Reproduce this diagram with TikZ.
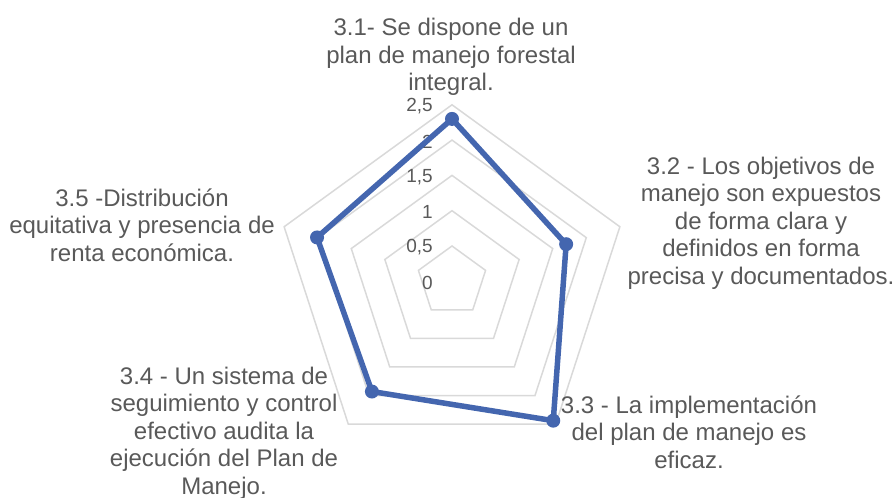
\documentclass[tikz,border=0pt]{standalone}
\usepackage{fontspec}
\setmainfont{Liberation Sans}
\definecolor{serie}{RGB}{68,102,175}
\definecolor{rejilla}{RGB}{217,217,217}
\definecolor{texto}{RGB}{89,89,89}

\begin{document}
\begin{tikzpicture}[x=1pt,y=1pt]
\tikzstyle{every node}+=[inner sep=0pt]
\tikzstyle{eje}=[text=texto,font=\fontsize{24}{27.5}\selectfont,align=center]
\tikzstyle{marca}=[text=texto,font=\fontsize{19}{21}\selectfont,anchor=east]
\useasboundingbox (0,0) rectangle (895,498);
\coordinate (c) at (452,216.7);
\begin{scope}[shift={(c)}]
\foreach \r in {1,...,5}
  \draw [rejilla,line width=1.5] (90:\r*35.3) -- (18:\r*35.3) -- (-54:\r*35.3) -- (-126:\r*35.3) -- (162:\r*35.3) -- cycle;
\node [marca] (m0) at (-19,-1.7) {0};
\node [marca] (m1) at (-19,33.8) {0,5};
\node [marca] (m2) at (-19,69.1) {1};
\node [marca] (m3) at (-19,104.4) {1,5};
\node [marca] (m4) at (-19,139.7) {2};
\node [marca] (m5) at (-19,175) {2,5};
\coordinate (p1) at (90:2.3*70.6);
\coordinate (p2) at (18:1.7*70.6);
\coordinate (p3) at (-54:2.44*70.6);
\coordinate (p4) at (-126:1.93*70.6);
\coordinate (p5) at (162:2.01*70.6);
\draw [serie,line width=5.5,line join=round] (p1) -- (p2) -- (p3) -- (p4) -- (p5) -- cycle;
\foreach \p in {p1,p2,p3,p4,p5}
  \fill [serie] (\p) circle (7);
\end{scope}
\node [eje] (e31) at (451,441) {3.1- Se dispone de un\\plan de manejo forestal\\integral.};
\node [eje] (e32) at (761,275) {3.2 - Los objetivos de\\manejo son expuestos\\de forma clara y\\definidos en forma\\precisa y documentados.};
\node [eje] (e33) at (689,66) {3.3 - La implementación\\del plan de manejo es\\eficaz.};
\node [eje] (e34) at (224,65) {3.4 - Un sistema de\\seguimiento y control\\efectivo audita la\\ejecución del Plan de\\Manejo.};
\node [eje] (e35) at (142,273) {3.5 -Distribución\\equitativa y presencia de\\renta económica.};
\end{tikzpicture}
\end{document}
